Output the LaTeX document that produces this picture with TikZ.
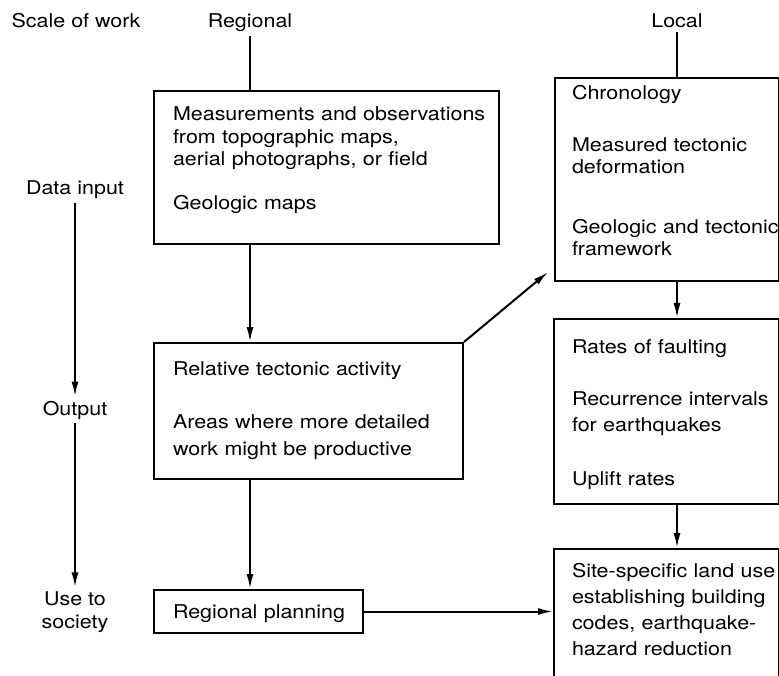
\documentclass[tikz,border=0pt]{standalone}
\usepackage{fontspec}
\setmainfont[FakeStretch=1.13]{TeX Gyre Heros}
\usetikzlibrary{arrows.meta,positioning,calc}

\begin{document}
\begin{tikzpicture}[
  x=1pt,y=-1pt,
  every node/.style={font=\fontsize{19}{22.5}\selectfont},
  lbl/.style={anchor=base,inner sep=4pt,align=center},
  box/.style={draw,line width=2pt,anchor=north west,align=left,
              inner xsep=#1,inner ysep=0pt},
  box/.default=19pt,
  arrow/.style={-{Latex[length=15pt,width=7pt]},line width=2pt},
  link/.style={line width=2pt}
]
\useasboundingbox (0,0) rectangle (779,676);

% column heads and the scale on the left
\node[lbl] (lblscale) at (76,28) {Scale of work};
\node[lbl] (lblregional) at (250,28) {Regional};
\node[lbl] (lbllocal) at (677,28) {Local};
\node[lbl] (lbldata) at (75,195) {Data input};
\node[lbl] (lbloutput) at (75,415) {Output};
\node[lbl] (lbluse) at (75,628) {Use to\\society};

% regional column
\node[box,text width=307pt,text height=30pt,text depth=123pt] (meas) at (153,90)
  {\mbox{Measurements and observations}\\from topographic maps,\\aerial photographs, or field\\[21pt]Geologic maps};
\node[box,text width=271pt,text height=32pt,text depth=104pt] (rel) at (153,342)
  {Relative tectonic activity\\[30.5pt]Areas where more detailed\\[4.5pt]work might be productive};
\node[box,text width=171pt,text height=28pt,text depth=15pt] (plan) at (153,589)
  {\mbox{Regional planning}};

% local column
\node[box=17pt,text width=190pt,text height=22pt,text depth=181pt] (chron) at (554,77)
  {Chronology\\[29pt]Measured tectonic\\deformation\\[37pt]\mbox{Geologic and tectonic}\\framework};
\node[box=18pt,text width=189pt,text height=34pt,text depth=151pt] (rates) at (553,318)
  {Rates of faulting\\[29.5pt]\mbox{Recurrence intervals}\\[3.5pt]for earthquakes\\[31.5pt]Uplift rates};
\node[box=18pt,text width=189pt,text height=28pt,text depth=114pt] (site) at (553,548)
  {\mbox{Site-specific land use}\\[3.5pt]\mbox{establishing building}\\[3.5pt]codes, earthquake-\\[3.5pt]hazard reduction};

\draw[link] (lblregional) -- (lblregional |- meas.north);
\draw[link] (lbllocal) -- (lbllocal |- chron.north);
\draw[arrow] (lblregional |- meas.south) -- (lblregional |- rel.north);
\draw[arrow] (lblregional |- rel.south) -- (lblregional |- plan.north);
\draw[arrow] (plan.east) -- (plan.east -| site.west);
\draw[arrow] (rel.north east) -- ([shift={(-6pt,10pt)}]chron.south west);
\draw[arrow] (lbllocal |- chron.south) -- (lbllocal |- rates.north);
\draw[arrow] (lbllocal |- rates.south) -- (lbllocal |- site.north);
\draw[arrow] (lbldata) -- (lbloutput);
\draw[arrow] (lbloutput) -- (lbluse);
\end{tikzpicture}
\end{document}
